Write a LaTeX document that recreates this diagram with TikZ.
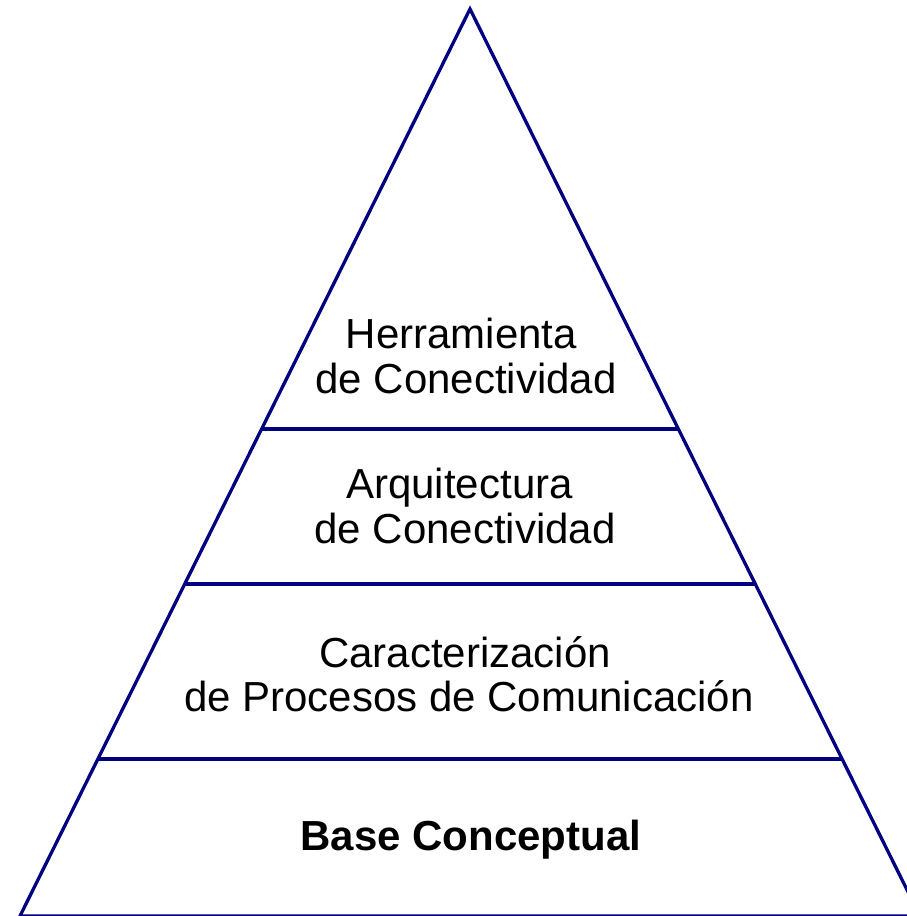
\documentclass[tikz,border=0pt]{standalone}
\usepackage{fontspec}
\setmainfont{Liberation Sans}
\usetikzlibrary{calc}
\definecolor{pyrline}{HTML}{000080}
\tikzset{
  edge/.style={draw=pyrline, line width=3.3pt, line join=miter},
  tier/.style={draw=pyrline, line width=3.3pt},
  lbl/.style={anchor=base, inner sep=0pt, font=\fontsize{42}{45}\selectfont, text=black},
  blbl/.style={lbl, font=\fontsize{42}{45}\selectfont\bfseries},
}
\begin{document}
\begin{tikzpicture}[x=1pt, y=-1pt]
\useasboundingbox (0,0) rectangle (907,916);
\coordinate (apex) at (470,9);
\coordinate (bl) at (20,916);
\coordinate (br) at (920,916);
\draw[edge] (bl) -- (apex) -- (br) -- cycle;
\draw[tier] ($(apex)!0.4631!(bl)$) coordinate (l1) -- ($(apex)!0.4631!(br)$) coordinate (r1);
\draw[tier] ($(apex)!0.6340!(bl)$) coordinate (l2) -- ($(apex)!0.6340!(br)$) coordinate (r2);
\draw[tier] ($(apex)!0.8269!(bl)$) coordinate (l3) -- ($(apex)!0.8269!(br)$) coordinate (r3);
\node[lbl] (h1) at (461.5,348) {Herramienta};
\node[lbl] (h2) at (466,393) {de Conectividad};
\node[lbl] (a1) at (459.5,498) {Arquitectura};
\node[lbl] (a2) at (465,543) {de Conectividad};
\node[lbl] (c1) at (465,667) {Caracterización};
\node[lbl] (c2) at (469,711) {de Procesos de Comunicación};
\node[blbl] (b1) at (471,850) {Base Conceptual};
\end{tikzpicture}
\end{document}
